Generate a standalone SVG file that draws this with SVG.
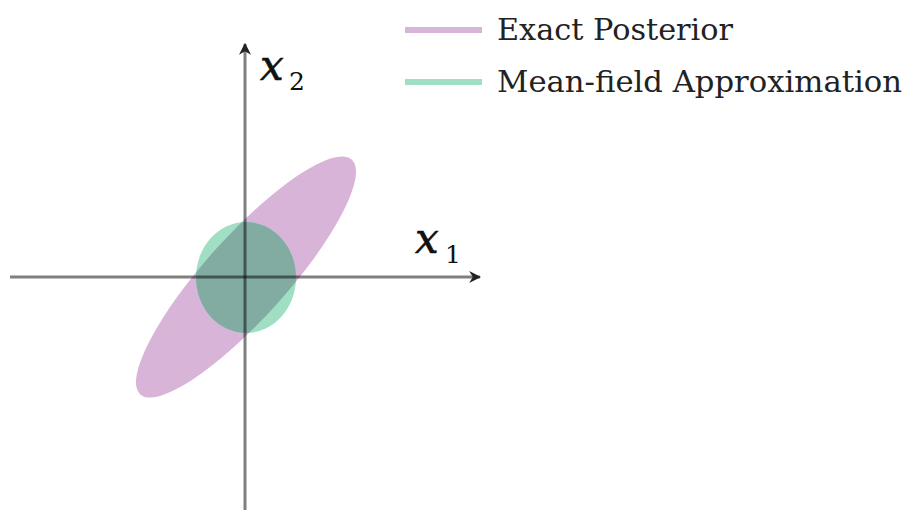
<svg xmlns="http://www.w3.org/2000/svg" width="918" height="510" viewBox="0 0 918 510">
<style>
.axis{stroke:#000;stroke-opacity:0.5;stroke-width:3;fill:none}
.lbl{font-family:"DejaVu Serif","Liberation Serif",serif;fill:#222}
.math{font-family:"DejaVu Serif","Liberation Serif",serif;font-style:italic;fill:#111}
.sub{font-family:"DejaVu Serif","Liberation Serif",serif;fill:#111}
</style>
<defs>
<marker id="ah" viewBox="0 0 10 10" refX="9" refY="5" markerWidth="12" markerHeight="12" markerUnits="userSpaceOnUse" orient="auto">
<path d="M0,0 L10,5 L0,10 L3,5 Z" fill="#222"/>
</marker>
<clipPath id="ellClip"><ellipse cx="246" cy="277" rx="158" ry="41" transform="rotate(-48 246 277)"/></clipPath>
</defs>
<g id="exact-posterior">
<ellipse cx="246" cy="277" rx="158" ry="41" transform="rotate(-48 246 277)" fill="#d9b4d9"/>
</g>
<g id="mean-field">
<ellipse cx="246" cy="277.5" rx="50" ry="55.5" fill="#a0dfc4"/>
<ellipse cx="246" cy="277.5" rx="50" ry="55.5" fill="#82aba2" clip-path="url(#ellClip)"/>
</g>
<g id="connectors">
<line class="axis" x1="245" y1="510" x2="245" y2="44" marker-end="url(#ah)"/>
<line class="axis" x1="10" y1="277" x2="480" y2="277" marker-end="url(#ah)"/>
</g>
<g id="axis-labels">
<text class="math" x="260" y="80" font-size="42" stroke="#111" stroke-width="0.6">x</text>
<text class="sub" x="289" y="90" font-size="25">2</text>
<text class="math" x="415" y="253" font-size="42" stroke="#111" stroke-width="0.6">x</text>
<text class="sub" x="445" y="263" font-size="25">1</text>
</g>
<g id="legend">
<line x1="405" y1="30" x2="482" y2="30" stroke="#d9b4d9" stroke-width="6"/>
<text class="lbl" x="497" y="40" font-size="29" textLength="236" lengthAdjust="spacingAndGlyphs">Exact Posterior</text>
<line x1="405" y1="82" x2="482" y2="82" stroke="#a0dfc4" stroke-width="6"/>
<text class="lbl" x="497" y="92" font-size="29" textLength="405" lengthAdjust="spacingAndGlyphs">Mean-field Approximation</text>
</g>
</svg>
